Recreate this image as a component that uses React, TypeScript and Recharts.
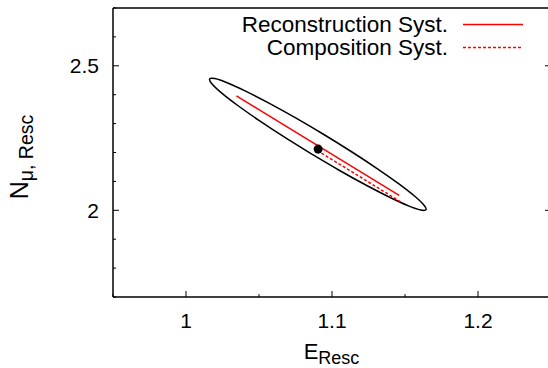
import React from 'react';
import { ComposedChart, Line, Scatter, XAxis, YAxis, Customized } from 'recharts';

// contour (E, N pairs going round the ellipse)
const ellipseE = [1.0862, 1.0672, 1.0497, 1.035, 1.0241, 1.0177, 1.0162, 1.0198, 1.0282, 1.0408, 1.0568, 1.0751, 1.0944, 1.1134, 1.1309, 1.1456, 1.1565, 1.1629, 1.1644, 1.1608, 1.1524, 1.1398, 1.1238, 1.1055, 1.0862];
const ellipseN = [2.1943, 2.254, 2.312, 2.3643, 2.4073, 2.4381, 2.4546, 2.4557, 2.4413, 2.4124, 2.3709, 2.3197, 2.2623, 2.2026, 2.1446, 2.0923, 2.0493, 2.0185, 2.002, 2.0009, 2.0153, 2.0442, 2.0857, 2.1369, 2.1943];

const recoE = [1.0345, 1.146];
const recoN = [2.396, 2.0514];
const compE = [1.0928, 1.1477];
const compN = [2.198, 2.0272];
const centerE = [1.0905];
const centerN = [2.2117];

const xTicks = [0.95, 1, 1.05, 1.1, 1.15, 1.2, 1.25];
const xLabels = ['1', '1.1', '1.2'];
const yTicks = [1.7, 1.8, 1.9, 2, 2.1, 2.2, 2.3, 2.4, 2.5, 2.6, 2.7];
const yLabels = ['2', '2.5'];

const toRows = (xs: number[], ys: number[]) => xs.map((e, i) => ({ e, n: ys[i] }));
const ellipse = toRows(ellipseE, ellipseN);
const reco = toRows(recoE, recoN);
const comp = toRows(compE, compN);
const center = toRows(centerE, centerN);

const FONT = '"Liberation Sans", Arial, Helvetica, sans-serif';

const isMajor = (v: number, labels: string[]) => labels.includes(String(v));

const BottomTick = (p: any) => {
  const major = isMajor(p.payload.value, xLabels);
  return (
    <g>
      <line x1={p.x} y1={p.y} x2={p.x} y2={p.y - (major ? 6 : 3)} stroke="#000" strokeWidth={1} />
      {major && (
        <text x={p.x} y={p.y + 31} textAnchor="middle" fontSize={21} fontFamily={FONT} fill="#000">
          {String(p.payload.value)}
        </text>
      )}
    </g>
  );
};

const TopTick = (p: any) => {
  const major = isMajor(p.payload.value, xLabels);
  return <line x1={p.x} y1={p.y} x2={p.x} y2={p.y + (major ? 6 : 3)} stroke="#000" strokeWidth={1} />;
};

const LeftTick = (p: any) => {
  const major = isMajor(p.payload.value, yLabels);
  return (
    <g>
      <line x1={p.x} y1={p.y} x2={p.x + (major ? 6 : 3)} y2={p.y} stroke="#000" strokeWidth={1} />
      {major && (
        <text x={p.x - 14} y={p.y + 7.5} textAnchor="end" fontSize={21} fontFamily={FONT} fill="#000">
          {String(p.payload.value)}
        </text>
      )}
    </g>
  );
};

const RightTick = (p: any) => {
  const major = isMajor(p.payload.value, yLabels);
  return <line x1={p.x} y1={p.y} x2={p.x - (major ? 6 : 3)} y2={p.y} stroke="#000" strokeWidth={1} />;
};

const Decorations = () => (
  <g fontFamily={FONT} fill="#000">
    <text x={331.5} y={359} textAnchor="middle" fontSize={22}>
      E<tspan dy={5} fontSize={18}>Resc</tspan>
    </text>
    <text transform="translate(28,157) rotate(-90)" textAnchor="middle" fontSize={25}>
      N<tspan dy={5} fontSize={19.5}>μ, Resc</tspan>
    </text>
    <text x={448} y={32} textAnchor="end" fontSize={22.5}>Reconstruction Syst.</text>
    <line x1={463} y1={24.5} x2={523} y2={24.5} stroke="#ff0000" strokeWidth={1.5} />
    <text x={448} y={55} textAnchor="end" fontSize={22.5}>Composition Syst.</text>
    <line x1={463} y1={47.5} x2={523} y2={47.5} stroke="#ff0000" strokeWidth={1.5} strokeDasharray="3 2" />
  </g>
);

const axisLine = { stroke: '#000', strokeWidth: 1.5 };

export default function App() {
  return (
    <div style={{ position: 'absolute', left: 0, top: 0, width: 548, height: 368, overflow: 'hidden', background: '#fff' }}>
      <ComposedChart width={552} height={368} margin={{ top: 7, right: 0, bottom: 70, left: 112 }}>
        <XAxis
          xAxisId="b"
          dataKey="e"
          type="number"
          domain={[0.95, 1.25]}
          ticks={xTicks}
          interval={0}
          height={1}
          tickSize={0}
          tickMargin={0}
          tickLine={false}
          tick={<BottomTick />}
          axisLine={axisLine}
          allowDataOverflow
        />
        <XAxis
          xAxisId="t"
          orientation="top"
          type="number"
          domain={[0.95, 1.25]}
          ticks={xTicks}
          interval={0}
          height={1}
          tickSize={0}
          tickMargin={0}
          tickLine={false}
          tick={<TopTick />}
          axisLine={axisLine}
          allowDataOverflow
        />
        <YAxis
          yAxisId="l"
          dataKey="n"
          type="number"
          domain={[1.7, 2.7]}
          ticks={yTicks}
          interval={0}
          width={1}
          tickSize={0}
          tickMargin={0}
          tickLine={false}
          tick={<LeftTick />}
          axisLine={axisLine}
          allowDataOverflow
        />
        <YAxis
          yAxisId="r"
          orientation="right"
          type="number"
          domain={[1.7, 2.7]}
          ticks={yTicks}
          interval={0}
          width={1}
          tickSize={0}
          tickMargin={0}
          tickLine={false}
          tick={<RightTick />}
          axisLine={axisLine}
          allowDataOverflow
        />
        <Line xAxisId="b" yAxisId="l" data={ellipse} dataKey="n" type="natural" stroke="#000" strokeWidth={1.5} dot={false} isAnimationActive={false} />
        <Line xAxisId="b" yAxisId="l" data={reco} dataKey="n" type="linear" stroke="#ff0000" strokeWidth={1.5} dot={false} isAnimationActive={false} />
        <Line xAxisId="b" yAxisId="l" data={comp} dataKey="n" type="linear" stroke="#ff0000" strokeWidth={1.5} strokeDasharray="3 2" dot={false} isAnimationActive={false} />
        <Scatter xAxisId="b" yAxisId="l" data={center} dataKey="n" fill="#000" isAnimationActive={false} />
        <Customized component={Decorations} />
      </ComposedChart>
    </div>
  );
}
